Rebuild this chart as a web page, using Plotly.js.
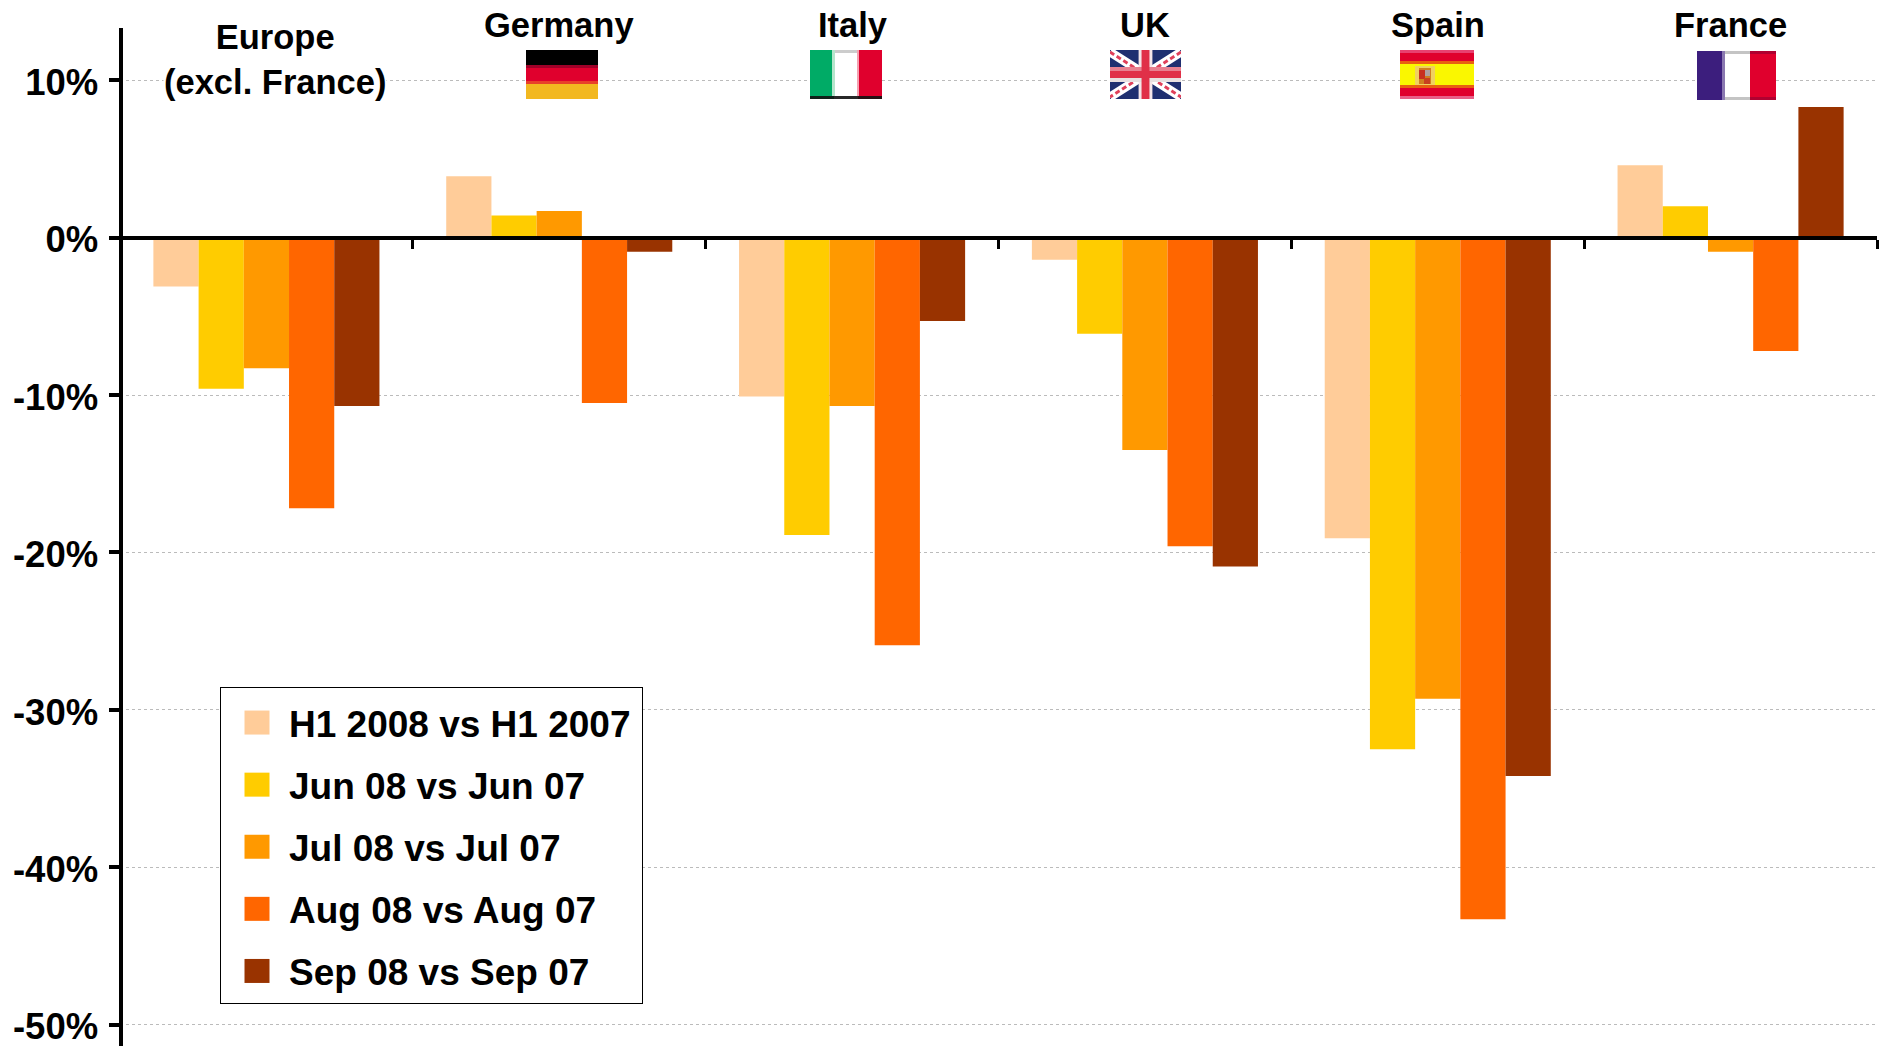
<!DOCTYPE html>
<html><head><meta charset="utf-8">
<script src="https://cdn.plot.ly/plotly-3.0.1.min.js"></script>
<style>html,body{margin:0;padding:0;background:#fff;overflow:hidden}</style>
</head><body><div id="chart" style="width:1881px;height:1046px"></div>
<script>
const categories = ["Europe<br>(excl. France)", "Germany", "Italy", "UK", "Spain", "France"];
const seriesNames = ["H1 2008 vs H1 2007", "Jun 08 vs Jun 07", "Jul 08 vs Jul 07", "Aug 08 vs Aug 07", "Sep 08 vs Sep 07"];
const seriesColors = ["#FFCC99", "#FFCC00", "#FF9900", "#FF6600", "#993300"];
const h1Values  = [-3.1, 3.9, -10.1, -1.4, -19.1, 4.6];
const junValues = [-9.6, 1.4, -18.9, -6.1, -32.5, 2.0];
const julValues = [-8.3, 1.7, -10.7, -13.5, -29.3, -0.9];
const augValues = [-17.2, -10.5, -25.9, -19.6, -43.3, -7.2];
const sepValues = [-10.7, -0.9, -5.3, -20.9, -34.2, 8.3];
const seriesValues = [h1Values, junValues, julValues, augValues, sepValues];
const yTicks = [10, 0, -10, -20, -30, -40, -50];
const yRange = [-51.36, 13.32];

const W = 1881, H = 1046, M = {l:120, r:4, t:28, b:0};
const px = x => (x - M.l) / (W - M.l - M.r);
const py = y => 1 - (y - M.t) / (H - M.t - M.b);

const R='#E0002D', N='#1F2F70';
const svg = (w,h,body) => 'data:image/svg+xml,' + encodeURIComponent(
  `<svg xmlns="http://www.w3.org/2000/svg" width="${w}" height="${h}" viewBox="0 0 ${w} ${h}" preserveAspectRatio="none">${body}</svg>`);
const rect = (x,y,w,h,f,o) => `<rect x="${x}" y="${y}" width="${w}" height="${h}" fill="${f}"${o?` opacity="${o}"`:''}/>`;
const flags = {
  germany: svg(72,49, rect(0,0,72,15,'#000')+rect(0,15,72,3,'#A00028')+rect(0,18,72,13,R)+rect(0,31,72,3,'#E8402A')+rect(0,34,72,15,'#F2B820')),
  italy: svg(72,49, rect(0,0,24,49,'#00AB66')+rect(24,0,24,49,'#fff')+rect(48,0,24,49,R)+rect(24,0,24,3,'#ccc')+rect(0,46,72,3,'#111',0.9)+rect(22,0,3,46,'#B5E5CC')+rect(47,0,2,46,'#F5A0B0')),
  uk: svg(72,49, rect(0,0,72,49,N)
     +'<path d="M0,2 L72,47 M72,2 L0,47" stroke="#fff" stroke-width="9"/>'
     +'<path d="M0,2 L30,21 M42,28 L72,47 M72,2 L42,21 M30,28 L0,47" stroke="#E0405A" stroke-width="3" stroke-dasharray="5 3"/>'
     +rect(0,17,72,15,'#F0F0F0')+rect(29,0,14,49,'#F5E5E8')+rect(0,17,72,4,'#E88090')+rect(0,21,72,7,'#E03048')+rect(0,28,72,4,'#E8E0E0')+rect(32,0,8,49,'#E03048')),
  spain: svg(74,49, rect(0,0,74,49,R)+rect(0,0,74,3,'#E84070')+rect(0,46,74,3,'#E86088')+rect(0,11,74,3,'#E86010')+rect(0,14,74,21,'#FAF700')+rect(0,35,74,3,'#E86010')
     +rect(15,16,20,19,'#F0D060')+rect(19,18,12,16,'#D08020')+rect(19,20,6,9,'#C83020')+rect(25,20,5,6,'#B0A0A0')+rect(24,28,6,6,'#C84020')),
  france: svg(79,49, rect(0,0,27,49,'#3C1E7D')+rect(27,0,26,49,'#fff')+rect(53,0,26,49,R)+rect(27,0,26,3,'#C4C4C4')+rect(27,46,26,3,'#C4C4C4')+rect(53,0,26,3,'#B00030')+rect(53,46,26,3,'#B00030')+rect(25,0,3,49,'#8A78B0'))
};
const flagBoxes = [
  [flags.germany, 526, 50, 72, 49],
  [flags.italy,   810, 50, 72, 49],
  [flags.uk,     1110, 50, 71, 49],
  [flags.spain,  1400, 50, 74, 49],
  [flags.france, 1697, 51, 79, 49]
];
const images = flagBoxes.map(([src,x,y,w,h]) => ({
  source: src, xref:'paper', yref:'paper', x:px(x), y:py(y), sizex:w/(W-M.l-M.r), sizey:h/(H-M.t-M.b),
  xanchor:'left', yanchor:'top', sizing:'stretch', layer:'above'
}));

const traces = seriesNames.map((name,i) => ({
  type:'bar', name, x:categories, y:seriesValues[i], legendgroup:name,
  marker:{color:seriesColors[i], line:{width:0}}, hovertemplate:'%{y}%<extra>'+name+'</extra>'
}));

const font = {family:'"Liberation Sans", Arial, sans-serif', color:'#000'};
const annotations = categories.map((c,i) => ({
  text:'<b>'+c+'</b>', x:c, xref:'x', xshift:i===0?9:0, yref:'paper',
  y:py(i===0 ? 60 : 25), yanchor:'middle', xanchor:'center', showarrow:false, align:'center',
  bgcolor:'#fff', borderpad:0,
  font:Object.assign({},font,{size:34.5})
}));

const layout = {
  width:W, height:H, margin:M, paper_bgcolor:'#fff', plot_bgcolor:'#fff',
  barmode:'group', bargap:0.228, bargroupgap:0, font,
  xaxis:{type:'category', categories, anchor:'free', position:(0-yRange[0])/(yRange[1]-yRange[0]),
    showline:true, linecolor:'#000', linewidth:4, ticks:'outside', tickson:'boundaries', ticklen:9, tickwidth:3, tickcolor:'#000',
    showticklabels:false, showgrid:false, zeroline:false, fixedrange:true},
  yaxis:{range:yRange, tickmode:'array', tickvals:yTicks, ticktext:yTicks.map(v=>'<b>'+v+'%</b>'),
    anchor:'free', position:0.5/(W-M.l-M.r),
    showline:true, linecolor:'#000', linewidth:4, ticks:'outside', ticklen:10, tickwidth:4, tickcolor:'#000',
    ticklabelstandoff:3, ticklabelshift:2, ticklabeloverflow:'allow', tickfont:Object.assign({},font,{size:36.5}),
    showgrid:true, gridcolor:'#bbbbbb', griddash:'dot', gridwidth:1, zeroline:false, fixedrange:true},
  legend:{x:px(220), y:py(687), xanchor:'left', yanchor:'top', bgcolor:'#fff', bordercolor:'#000', borderwidth:1,
    font:Object.assign({},font,{size:37,weight:700}), itemwidth:58, tracegroupgap:11, traceorder:'grouped', itemclick:false, itemdoubleclick:false},
  annotations, images, showlegend:true
};
Plotly.newPlot('chart', traces, layout, {displayModeBar:false, responsive:false}).then(gd => {
  const legend = gd.querySelector('.legend');
  legend.querySelectorAll('.legendbar path, .legendpoints path, path.legendundefined').forEach(p => {
    p.setAttribute('d','M14.5,12H-10.5V-12H14.5Z');
  });
  legend.querySelectorAll('.scrollbox').forEach(s => s.setAttribute('transform','translate(0,4)'));
  const bg = legend.querySelector('rect.bg');
  if (bg) { bg.setAttribute('height', 316); bg.setAttribute('width', 422); }
  document.querySelectorAll('clipPath[id*="legend"] rect').forEach(r => { r.setAttribute('height', 316); r.setAttribute('width', 422); });
});
</script></body></html>
